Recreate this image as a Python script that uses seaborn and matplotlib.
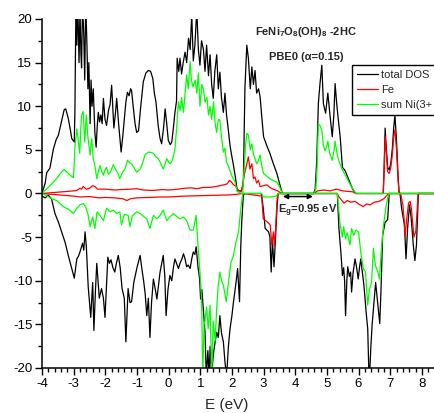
import matplotlib
matplotlib.use("Agg")
import matplotlib.pyplot as plt
from matplotlib.ticker import MultipleLocator
import seaborn as sns
import pandas as pd

# ---------------- data ----------------
total_up_E = [-4.00, -3.90, -3.85, -3.75, -3.64, -3.55, -3.48, -3.40, -3.30, -3.25, -3.17, -3.10, -3.06, -2.98,
              -2.96, -2.93, -2.90, -2.87, -2.83, -2.80, -2.77, -2.75, -2.72, -2.68, -2.65, -2.62, -2.58, -2.55,
              -2.52, -2.48, -2.45, -2.42, -2.38, -2.33, -2.29, -2.25, -2.22, -2.18, -2.14, -2.10, -2.06, -2.01,
              -1.96, -1.90, -1.85, -1.80, -1.76, -1.73, -1.68, -1.64, -1.58, -1.53, -1.50, -1.45, -1.40, -1.35,
              -1.30, -1.25, -1.20, -1.17, -1.12, -1.06, -1.01, -0.95, -0.88, -0.80, -0.72, -0.64, -0.57, -0.50,
              -0.45, -0.40, -0.33, -0.27, -0.22, -0.16, -0.11, -0.06, -0.01, 0.05, 0.10, 0.15, 0.20, 0.25, 0.27,
              0.32, 0.36, 0.41, 0.46, 0.52, 0.57, 0.63, 0.68, 0.73, 0.78, 0.83, 0.89, 0.94, 0.99, 1.04, 1.10,
              1.15, 1.20, 1.26, 1.31, 1.36, 1.41, 1.46, 1.52, 1.57, 1.62, 1.67, 1.73, 1.78, 1.83, 1.88, 1.94,
              1.99, 2.05, 2.10, 2.17, 2.30, 2.36, 2.41, 2.47, 2.52, 2.58, 2.63, 2.68, 2.73, 2.78, 2.84, 2.89,
              2.95, 3.00, 3.10, 3.20, 3.30, 3.42, 3.50, 3.57, 3.60, 4.58, 4.63, 4.68, 4.73, 4.78, 4.84, 4.89,
              4.96, 5.03, 5.10, 5.17, 5.22, 5.26, 5.31, 5.36, 5.42, 5.49, 5.58, 5.68, 5.80, 5.90, 6.78, 6.81,
              6.84, 6.88, 6.92, 6.97, 7.02, 7.07, 7.11, 7.15, 7.20, 7.25, 7.28, 7.31, 8.70]
total_up = [0, 1.2, 2.4, 2.9, 5.1, 6.2, 6.7, 8.0, 9.6, 9.7, 8.6, 7.2, 6.3, 5.9,
            9.5, 21, 17, 22, 15, 21, 16, 14.4, 22, 18, 13, 22, 17, 12,
            15, 8, 13, 10, 12, 7, 5.3, 8, 9.3, 8.2, 9.0, 8.0, 10.9, 8.5,
            7.8, 9.5, 10.2, 12.4, 9.5, 7.5, 9.2, 10.9, 8.0, 6.0, 4.75, 6.5, 8.5, 10.5,
            11.6, 11.2, 12.0, 11.8, 10.0, 8.0, 7.0, 7.2, 10.0, 12.8, 13.8, 14.1, 14.0, 13.2,
            11.5, 10.5, 7.8, 6.3, 5.7, 7.5, 9.7, 8.0, 6.1, 5.6, 5.9, 7.5, 9.3, 10.6, 15.5,
            14.0, 15.5, 13.7, 15.0, 16.2, 15.0, 17.8, 16.5, 20.5, 15.2, 17.0, 21, 16.5, 14.7, 17.5, 16.5,
            14.0, 17.0, 13.5, 15.9, 12.5, 10.9, 14.0, 15.9, 12.0, 13.9, 11.0, 9.3, 11.5, 9.0, 7.5, 5.5,
            4.4, 3.2, 2.1, 0.3, 0.3, 1.0, 12, 17, 15.5, 12, 14.5, 12.5, 14.1, 11.5, 12, 11.1,
            8.5, 6.5, 5.5, 4.6, 3.5, 2.3, 1.2, 0.3, 0, 0, 0.5, 3.8, 10.3, 12.5, 14.7, 10.3,
            9.2, 11.5, 8.9, 6.5, 9, 12.6, 10.3, 8.5, 6.5, 3.0, 2.6, 1.7, 0.6, 0, 0, 3,
            7.5, 5, 3.0, 2.7, 3.5, 5.2, 7.5, 9.0, 6, 2, 0.2, 0, 0]

total_dn_E = [-4.00, -3.90, -3.80, -3.70, -3.59, -3.48, -3.38, -3.27, -3.17, -3.06, -2.98, -2.90, -2.85, -2.80,
              -2.72, -2.68, -2.64, -2.60, -2.54, -2.46, -2.40, -2.36, -2.31, -2.27, -2.19, -2.12, -2.06, -2.01,
              -1.92, -1.87, -1.82, -1.76, -1.70, -1.65, -1.59, -1.53, -1.47, -1.40, -1.35, -1.28, -1.22, -1.17,
              -1.10, -1.00, -0.90, -0.85, -0.79, -0.74, -0.69, -0.64, -0.59, -0.54, -0.48, -0.42, -0.37, -0.32,
              -0.27, -0.17, -0.12, -0.08, -0.02, 0.04, 0.10, 0.15, 0.20, 0.25, 0.31, 0.36, 0.42, 0.47, 0.52,
              0.57, 0.62, 0.68, 0.73, 0.78, 0.83, 0.87, 0.93, 0.98, 1.01, 1.05, 1.10, 1.15, 1.19, 1.24, 1.28,
              1.31, 1.36, 1.41, 1.47, 1.52, 1.57, 1.62, 1.67, 1.73, 1.78, 1.83, 1.89, 1.94, 2.00, 2.05, 2.10,
              2.13, 2.18, 2.24, 2.28, 2.31, 2.36, 2.40, 2.92, 2.94, 2.99, 3.05, 3.16, 3.20, 3.24, 3.28, 3.33,
              3.38, 3.43, 3.46, 5.33, 5.38, 5.45, 5.49, 5.53, 5.56, 5.59, 5.63, 5.66, 5.71, 5.75, 5.78, 5.83,
              5.89, 5.94, 5.99, 6.03, 6.07, 6.12, 6.17, 6.24, 6.29, 6.33, 6.36, 6.39, 6.43, 6.47, 6.54, 6.61,
              6.67, 6.71, 6.76, 6.84, 6.92, 6.97, 7.31, 7.36, 7.42, 7.45, 7.50, 7.55, 7.61, 7.66, 7.73, 7.78,
              7.83, 7.89, 8.70]
total_dn = [-0.3, -0.5, -0.2, -0.6, -2.3, -3.3, -4.4, -5.6, -7.1, -8.6, -9.7, -7.5, -7.2, -6.7,
            -5.7, -6.5, -4.4, -6.0, -10.7, -14.2, -10.2, -15.7, -11.0, -8.0, -12.0, -10.9, -12.0, -14.2,
            -7.3, -8.0, -7.6, -8.5, -9.0, -8.0, -7.1, -8.5, -10.9, -12.0, -17.0, -10.9, -12.5, -12.4,
            -10.2, -8.5, -7.1, -8.5, -10.0, -11.5, -14.0, -12.0, -16.5, -12.5, -9.8, -11.0, -12.1, -10.5,
            -9.0, -7.1, -9.5, -14.0, -11.0, -9.4, -10.0, -8.5, -7.5, -8.0, -8.6, -8.0, -7.5, -6.9, -7.5,
            -8.4, -8.2, -8.6, -7.5, -6.7, -7.0, -6.1, -8.5, -9.8, -12.1, -11.0, -13.5, -15.9, -21, -18.0, -21,
            -17.5, -21, -18.5, -17.0, -15.9, -16.5, -14.0, -16.0, -17.0, -19.3, -21, -17.5, -15.5, -14.0, -12.4, -11.0,
            -10.2, -8.6, -12.4, -6.0, -3.3, -0.2, 0, 0, -0.2, -1.7, -4.0, -4.4, -5.0, -9.0, -5.4, -8.4,
            -4.9, -1.3, 0, 0, -4.0, -7.1, -9.4, -8.5, -10.0, -14.0, -10.0, -8.4, -9.5, -9.0, -11.3, -9.0,
            -7.5, -8.5, -9.8, -8.5, -7.5, -9.0, -10.5, -13.6, -15.5, -21, -20, -17.5, -15.0, -13.2, -10.2, -12.8,
            -14.9, -11.0, -4.8, -3.3, -3.0, 0, 0, -1.7, -3.0, -3.6, -7.5, -4.0, -1.3, -2.7, -5.9, -7.7,
            -5.9, 0, 0]

fe_up_E = [-4.00, -3.50, -3.00, -2.90, -2.80, -2.75, -2.70, -2.60, -2.50, -2.40, -2.33, -2.25, -2.00, -1.70,
           -1.50, -1.20, -1.00, -0.80, -0.50, -0.20, 0.00, 0.30, 0.50, 0.70, 0.90, 1.10, 1.30, 1.50, 1.62,
           1.75, 1.85, 1.92, 1.99, 2.05, 2.10, 2.20, 2.30, 2.36, 2.41, 2.47, 2.52, 2.57, 2.63, 2.68, 2.73,
           2.78, 2.84, 2.89, 3.00, 3.10, 3.20, 3.30, 3.45, 3.57, 4.60, 4.70, 4.90, 5.10, 5.30, 5.50, 5.80,
           5.95, 6.78, 6.81, 6.84, 6.88, 6.92, 6.97, 7.02, 7.07, 7.11, 7.15, 7.20, 7.25, 7.28, 8.70]
fe_up = [0, 0.15, 0.3, 0.35, 0.6, 0.5, 0.8, 0.5, 0.6, 0.9, 0.8, 0.5, 0.5, 0.4,
         0.45, 0.5, 0.55, 0.4, 0.35, 0.45, 0.4, 0.5, 0.6, 0.65, 0.55, 0.7, 0.7, 0.8, 0.9,
         1.0, 1.1, 1.5, 1.3, 1.0, 0.9, 0.4, 0.2, 1.5, 2.45, 3.4, 4.2, 2.8, 3.4, 1.7, 1.9,
         1.2, 1.5, 0.8, 0.9, 1.0, 0.7, 0.5, 0.3, 0, 0, 0.3, 0.4, 0.3, 0.5, 0.3, 0.2,
         0, 0, 3, 6.5, 4.5, 2.5, 2.3, 3.0, 4.5, 6.5, 7.3, 5.0, 1.5, 0, 0]

fe_dn_E = [-4.00, -3.50, -3.00, -2.80, -2.50, -2.20, -2.00, -1.70, -1.45, -1.32, -1.20, -1.00, -0.60, -0.30,
           0.00, 0.50, 1.00, 1.50, 2.00, 2.35, 2.94, 2.99, 3.10, 3.21, 3.26, 3.31, 3.34, 3.38, 3.43, 3.46,
           5.33, 5.38, 5.43, 5.54, 5.65, 5.75, 5.89, 6.00, 6.15, 6.25, 6.37, 6.50, 6.65, 6.80, 6.85, 6.95,
           7.33, 7.40, 7.44, 7.47, 7.52, 7.58, 7.63, 7.67, 7.75, 7.81, 7.85, 7.88, 8.70]
fe_dn = [0, -0.15, -0.3, -0.4, -0.35, -0.5, -0.45, -0.5, -0.6, -0.8, -0.6, -0.5, -0.45, -0.4,
         -0.4, -0.3, -0.25, -0.2, -0.15, 0, -0.3, -2.9, -3.2, -3.6, -5.9, -4.4, -6.0, -4.0, -0.5, 0,
         0, -0.4, -0.6, -1.1, -0.8, -1.0, -0.9, -1.2, -1.5, -1.2, -1.3, -1.0, -0.9, -0.6, -0.4, 0,
         0, -1.3, -3.0, -4.9, -3.0, -1.1, -0.9, -1.7, -5.0, -4.3, -2, 0, 0]

ni_up_E = [-4.00, -3.75, -3.54, -3.40, -3.30, -3.17, -3.01, -2.98, -2.96, -2.90, -2.85, -2.81, -2.75, -2.70,
           -2.65, -2.60, -2.55, -2.48, -2.43, -2.38, -2.32, -2.27, -2.22, -2.17, -2.12, -2.06, -2.01, -1.96,
           -1.90, -1.83, -1.75, -1.68, -1.60, -1.54, -1.46, -1.38, -1.30, -1.22, -1.17, -1.10, -1.01, -0.90,
           -0.82, -0.75, -0.64, -0.55, -0.48, -0.40, -0.33, -0.27, -0.17, -0.11, -0.06, 0.00, 0.05, 0.12,
           0.20, 0.26, 0.31, 0.36, 0.41, 0.47, 0.52, 0.57, 0.62, 0.68, 0.72, 0.77, 0.84, 0.89, 0.94, 0.99,
           1.05, 1.10, 1.15, 1.21, 1.26, 1.31, 1.36, 1.42, 1.47, 1.52, 1.57, 1.62, 1.67, 1.73, 1.78, 1.83,
           1.88, 1.94, 2.00, 2.10, 2.17, 2.34, 2.38, 2.43, 2.47, 2.52, 2.58, 2.63, 2.68, 2.73, 2.78, 2.84,
           2.89, 2.95, 3.00, 3.10, 3.20, 3.30, 3.42, 3.50, 3.57, 3.60, 4.60, 4.65, 4.69, 4.73, 4.78, 4.84,
           4.89, 4.94, 5.00, 5.03, 5.07, 5.10, 5.17, 5.22, 5.26, 5.30, 5.35, 5.45, 5.58, 5.74, 5.85, 5.92,
           8.70]
ni_up = [0, 0.9, 1.7, 2.4, 2.75, 2.3, 1.8, 3.5, 5.3, 7.4, 6.0, 4.6, 9.0, 9.4,
         5.9, 9.0, 6.5, 4.4, 6.3, 4.0, 3.0, 1.7, 2.5, 3.2, 2.6, 2.1, 2.7, 3.0,
         2.2, 2.5, 3.3, 2.8, 2.3, 1.7, 2.4, 2.8, 3.8, 3.5, 3.4, 3.0, 2.45, 2.8,
         3.5, 4.4, 4.75, 4.7, 4.6, 4.2, 4.0, 3.6, 2.8, 3.4, 4.0, 3.6, 3.4, 3.8,
         5.1, 7.8, 10.5, 9.5, 11.0, 9.3, 11.5, 13.6, 12.0, 15.1, 13.0, 12.2, 13.0, 11.5, 13.8, 10.0,
         12.5, 11.9, 10.5, 11.0, 9.0, 10.0, 8.5, 10.5, 8.0, 7.0, 8.5, 8.4, 6.5, 4.75, 5.2, 3.6,
         3.2, 2.6, 2.0, 1.3, 0.2, 0, 2.5, 5.5, 6.9, 6.7, 5.0, 5.7, 4.5, 4.0, 3.4, 3.8,
         4.4, 3.0, 2.3, 2.0, 1.7, 1.5, 1.3, 0.8, 0.2, 0, 0, 0.5, 3.0, 8.0, 7.8, 7.3,
         5.5, 4.9, 5.5, 6.0, 5.0, 4.5, 3.8, 4.8, 6.0, 5.0, 4.1, 3.0, 2.1, 1.0, 0.4, 0,
         0]

ni_dn_E = [-4.00, -3.83, -3.70, -3.54, -3.33, -3.12, -3.01, -2.90, -2.80, -2.70, -2.62, -2.54, -2.48, -2.40,
           -2.33, -2.26, -2.17, -2.06, -1.96, -1.85, -1.75, -1.64, -1.54, -1.49, -1.40, -1.28, -1.22, -1.15,
           -1.01, -0.90, -0.80, -0.69, -0.59, -0.48, -0.37, -0.27, -0.17, -0.06, 0.04, 0.15, 0.25, 0.36,
           0.47, 0.57, 0.68, 0.78, 0.87, 0.92, 0.99, 1.04, 1.08, 1.12, 1.15, 1.20, 1.25, 1.31, 1.36, 1.41,
           1.47, 1.52, 1.57, 1.62, 1.67, 1.73, 1.82, 1.89, 1.97, 2.05, 2.13, 2.21, 2.28, 2.34, 2.94, 2.99,
           3.20, 3.40, 3.46, 5.33, 5.38, 5.42, 5.49, 5.53, 5.59, 5.64, 5.73, 5.78, 5.85, 5.92, 6.00, 6.07,
           6.15, 6.22, 6.29, 6.34, 6.41, 6.47, 6.53, 6.61, 6.66, 6.72, 6.79, 6.86, 6.92, 6.97, 8.70]
ni_dn = [0, -0.3, -0.6, -0.8, -1.5, -1.9, -2.3, -1.7, -1.3, -1.15, -1.5, -2.5, -3.8, -2.7,
         -4.0, -2.1, -2.5, -3.1, -1.7, -2.1, -1.9, -2.3, -2.1, -3.6, -2.4, -2.5, -3.8, -2.6,
         -2.1, -2.3, -2.6, -2.9, -4.0, -2.5, -2.9, -2.5, -1.9, -3.1, -2.7, -2.3, -2.6, -2.9,
         -2.7, -3.1, -4.2, -4.2, -2.5, -5.5, -9.0, -12, -21, -15, -14.6, -13.0, -15.5, -12.8, -21, -14.6,
         -16.9, -13.0, -10.5, -9.0, -10.0, -10.5, -12.4, -10.2, -7.9, -7.1, -5.5, -4.4, -1.7, 0, 0, -0.4,
         -0.4, -0.3, 0, 0, -2.0, -3.6, -5.0, -3.8, -5.2, -4.5, -5.9, -4.0, -4.8, -4.2, -4.4, -6.7,
         -8.6, -9.0, -12.8, -11.0, -10.2, -6.3, -8.2, -9.0, -9.8, -6.5, -3.6, -1.7, -0.5, 0, 0]

series_labels = ["total DOS", "Fe", "sum Ni(3+"]
x_ticks = list(range(-4, 9))
y_ticks = list(range(-20, 21, 5))

# ---------------- style ----------------
sns.set_theme(style="ticks")
plt.rcParams["font.family"] = ["Liberation Sans", "DejaVu Sans"]
plt.rcParams["axes.unicode_minus"] = False
plt.rcParams["mathtext.fontset"] = "custom"
plt.rcParams["mathtext.rm"] = "Liberation Sans"
plt.rcParams["mathtext.bf"] = "Liberation Sans:bold"

fig = plt.figure(figsize=(4.35, 4.13), dpi=100)
fig.patch.set_facecolor("white")
ax = fig.add_axes([42 / 435, 45 / 413, (444 - 42) / 435, (368 - 19) / 413])
ax.set_facecolor("white")

lw = 0.9
def draw(E, v, color, label=None):
    df = pd.DataFrame({"E": E, "DOS": v})
    sns.lineplot(data=df, x="E", y="DOS", color=color, lw=lw, estimator=None,
                 sort=False, ax=ax, label=label, legend=False)

draw(total_up_E, total_up, "black", series_labels[0])
draw(total_dn_E, total_dn, "black")
draw(fe_up_E, fe_up, "#ff0000", series_labels[1])
draw(fe_dn_E, fe_dn, "#ff0000")
draw(ni_up_E, ni_up, "#00ff00", series_labels[2])
draw(ni_dn_E, ni_dn, "#00ff00")

ax.set_xlim(-4, 8.7)
ax.set_ylim(-20, 20)
ax.set_xticks(x_ticks)
ax.set_yticks(y_ticks)
ax.xaxis.set_minor_locator(MultipleLocator(0.2))
ax.yaxis.set_minor_locator(MultipleLocator(2.5))
ax.tick_params(which="major", direction="out", length=5, width=1, labelsize=9.5, colors="black",
               pad=2)
ax.tick_params(which="minor", direction="out", length=3, width=1, colors="black")
ax.spines["top"].set_visible(False)
ax.spines["right"].set_visible(False)
for s in ("left", "bottom"):
    ax.spines[s].set_color("black")
    ax.spines[s].set_linewidth(1.1)

ax.set_ylabel("")
ax.set_xlabel("E (eV)", fontsize=11)
ax.xaxis.set_label_coords(0.459, -0.086)

# texts
fig.text(306 / 435, 1 - 32 / 413,
         r"FeNi$_{\mathbf{7}}$O$_{\mathbf{8}}$(OH)$_{\mathbf{8}}$ -2HC",
         ha="center", va="center", fontsize=8, fontweight="bold")
fig.text(306 / 435, 1 - 57 / 413, "PBE0 (α=0.15)",
         ha="center", va="center", fontsize=8, fontweight="bold")
ax.annotate("", xy=(4.56, -0.35), xytext=(3.61, -0.35),
            arrowprops=dict(arrowstyle="<|-|>", color="black", lw=1.1, mutation_scale=7,
                            shrinkA=0, shrinkB=0))
fig.text(308 / 435, 1 - 211 / 413, r"E$_{\mathbf{g}}$=0.95 eV",
         ha="center", va="center", fontsize=8, fontweight="bold")

leg = ax.legend(loc="upper left", bbox_to_anchor=(352 / 435, 1 - 65 / 413),
                bbox_transform=fig.transFigure, frameon=True, fancybox=False,
                edgecolor="black", fontsize=8, handlelength=1.9, handletextpad=0.3,
                labelspacing=0.45, borderpad=0.45, borderaxespad=0)
leg.get_frame().set_linewidth(1.0)
leg.get_frame().set_facecolor("white")
leg.get_frame().set_alpha(1)

fig.savefig("out.png", dpi=100, facecolor="white")
